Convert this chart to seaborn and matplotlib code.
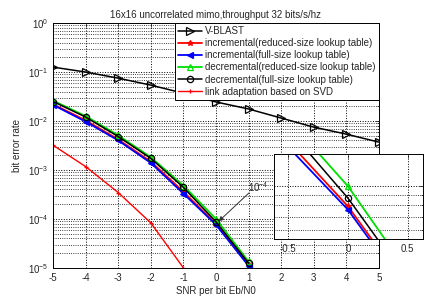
import numpy as np
import pandas as pd
import matplotlib
matplotlib.use("Agg")
import matplotlib.pyplot as plt
import seaborn as sns
from matplotlib.ticker import LogLocator, NullFormatter, FixedLocator

# ---- data ----
snr = [-5, -4, -3, -2, -1, 0, 1, 2, 3, 4, 5]
vblast = [0.126, 0.100, 0.075, 0.054, 0.037, 0.0245, 0.0176, 0.0115, 0.0075, 0.0054, 0.0037]

snr_short = [-5, -4, -3, -2, -1, 0, 1]
inc_reduced = [0.022, 0.0103, 0.0042, 0.00148, 3.6e-4, 7.9e-5, 1.15e-5]
inc_full = [0.0213, 0.0097, 0.0040, 0.00139, 3.3e-4, 7.6e-5, 1.1e-5]
dec_reduced = [0.026, 0.0126, 0.0051, 0.00182, 4.8e-4, 1.0e-4, 1.35e-5]
dec_full = [0.025, 0.0120, 0.0048, 0.00172, 4.4e-4, 8.7e-5, 1.25e-5]

svd_snr = [-5, -4, -3, -2, -1]
svd = [3.2e-3, 1.17e-3, 3.45e-4, 8.3e-5, 1.0e-5]

labels = ["V-BLAST",
          "incremental(reduced-size lookup table)",
          "incremental(full-size lookup table)",
          "decremental(reduced-size lookup table)",
          "decremental(full-size lookup table)",
          "link adaptation based on SVD"]
title = "16x16 uncorrelated mimo,throughput 32 bits/s/hz"
xlabel = "SNR per bit Eb/N0"
ylabel = "bit error rate"

sns.set_style("white")
plt.rcParams["font.family"] = ["Liberation Sans", "DejaVu Sans"]
plt.rcParams["mathtext.fontset"] = "custom"
plt.rcParams["mathtext.rm"] = "Liberation Sans"
plt.rcParams["mathtext.it"] = "Liberation Sans:italic"
plt.rcParams["axes.unicode_minus"] = False

FS = 7

series = [
    (snr, vblast, dict(color="k", marker=">", mfc="none", mec="k", ms=5.5, lw=1.1)),
    (snr_short, inc_reduced, dict(color="#ff0000", marker="*", mfc="#ff0000", mec="#ff0000", ms=4, lw=1.3)),
    (snr_short, inc_full, dict(color="#0000ff", marker="<", mfc="#0000ff", mec="#0000ff", ms=4.5, lw=1.3)),
    (snr_short, dec_reduced, dict(color="#00e000", marker="^", mfc="none", mec="#00e000", ms=5, lw=1.3)),
    (snr_short, dec_full, dict(color="k", marker="o", mfc="none", mec="k", ms=4.5, lw=1.1)),
    (svd_snr, svd, dict(color="#ff0000", marker="+", mfc="#ff0000", mec="#ff0000", ms=3.5, lw=1.0)),
]

fig = plt.figure(figsize=(4.39, 2.96), dpi=100)
ax = fig.add_axes([0.121, 0.095, 0.742, 0.827])
ax.set_yscale("log")

for (xs, ys, st), lab in zip(series, labels):
    df = pd.DataFrame({"x": xs, "y": ys})
    sns.lineplot(data=df, x="x", y="y", ax=ax, label=lab, estimator=None,
                 sort=False, markeredgewidth=0.9, **st)

ax.set_xlim(-5, 5)
ax.set_ylim(1e-5, 1)
ax.set_xticks(range(-5, 6))
ax.yaxis.set_major_locator(LogLocator(base=10, numticks=10))
ax.yaxis.set_minor_locator(LogLocator(base=10, subs=np.arange(2, 10), numticks=20))
ax.yaxis.set_minor_formatter(NullFormatter())
ax.grid(True, which="major", ls=":", color="k", lw=0.7)
ax.grid(True, which="minor", axis="y", ls=":", color="k", lw=0.6)
ax.tick_params(which="both", direction="in", labelsize=FS, top=True, right=True, length=3, width=0.6)
ax.tick_params(which="minor", length=1.8)
for s in ax.spines.values():
    s.set_color("k"); s.set_linewidth(0.7)
ax.set_title(title, fontsize=FS, pad=4)
ax.set_xlabel(xlabel, fontsize=FS, labelpad=2)
ax.set_ylabel(ylabel, fontsize=FS, labelpad=4)

leg = ax.legend(loc="upper right", fontsize=FS, frameon=True, fancybox=False,
                edgecolor="k", framealpha=1, borderaxespad=0, handlelength=2.5,
                handletextpad=0.35, labelspacing=0.22, borderpad=0.3)
leg.get_frame().set_linewidth(0.7)

# inset zoom
ins = fig.add_axes([0.624, 0.193, 0.340, 0.287])
ins.set_yscale("log")
for xs, ys, st in series[1:5]:
    df = pd.DataFrame({"x": xs, "y": ys})
    sns.lineplot(data=df, x="x", y="y", ax=ins, estimator=None, sort=False,
                 legend=False, markeredgewidth=0.9, **st)
ins.set_xlim(-0.62, 0.63)
ins.set_ylim(5.4e-5, 1.46e-4)
ins.xaxis.set_major_locator(FixedLocator([-0.5, 0, 0.5]))
ins.set_xticklabels(["-0.5", "0", "0.5"])
ins.yaxis.set_major_locator(LogLocator(base=10, numticks=10))
ins.yaxis.set_minor_locator(LogLocator(base=10, subs=np.arange(2, 10), numticks=20))
ins.yaxis.set_minor_formatter(NullFormatter())
ins.grid(True, which="major", ls=":", color="k", lw=0.7)
ins.grid(True, which="minor", axis="y", ls=":", color="k", lw=0.6)
ins.tick_params(which="both", direction="in", labelsize=FS, length=3, width=0.6, top=True, right=True)
ins.tick_params(which="minor", length=1.8)
ins.set_xlabel(""); ins.set_ylabel("")
ins.set_facecolor("white")
for s in ins.spines.values():
    s.set_color("k"); s.set_linewidth(0.7)

ax.annotate("", xy=(0.08, 8.9e-5), xycoords="data",
            xytext=(0.567, 0.348), textcoords="figure fraction",
            arrowprops=dict(arrowstyle="-|>", color="#333333", lw=0.7,
                            mutation_scale=7, shrinkA=0, shrinkB=0))

fig.savefig("out.png", dpi=100)
